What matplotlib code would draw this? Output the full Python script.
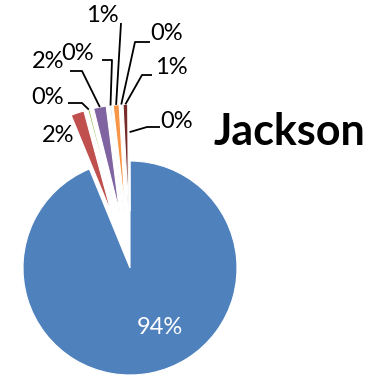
import matplotlib
matplotlib.use("Agg")
import matplotlib.pyplot as plt
import numpy as np

# ---- data ----
categories = ["A", "B", "C", "D", "E", "F", "G", "H", "I"]
values = [93.8, 2.0, 0.3, 1.9, 0.2, 0.9, 0.1, 0.7, 0.1]
colors = ["#4F81BD", "#C0504D", "#9BBB59", "#8064A2", "#4BACC6",
          "#F79646", "#2C4D75", "#772C2A", "#5F7530"]
title = "Jackson"

W, H = 376, 377
def P(x, y):
    return (x, H - y)

fig = plt.figure(figsize=(W / 100, H / 100), dpi=100)
ax = fig.add_axes([0, 0, 1, 1])

R = 107
explode = [0.0] + [0.53 * R] * (len(values) - 1)
wedges, _ = ax.pie(values, colors=colors, startangle=90, counterclock=False,
                   explode=explode, center=P(130, 268), radius=R,
                   wedgeprops=dict(edgecolor="white", linewidth=0.8))
ax.set_xlim(0, W)
ax.set_ylim(0, H)
ax.set_aspect("auto")
ax.axis("off")

total = sum(values)
labels = ["%.0f%%" % (v / total * 100) for v in values]

# layout: label centre, leader start (near label), elbow  (pixel coords)
label_pos = [(160, 328), (58, 135), (48, 97), (48, 62), (78, 53),
             (102, 15), (167, 34), (171, 67), (177, 122)]
leader = [None, None,
          ((68, 103), (82, 103)),
          ((70, 71), (82, 71)),
          ((102, 60), (112, 60)),
          ((121, 23), (121, 23)),
          ((150, 42), (135, 42)),
          ((152, 75), (142, 75)),
          ((160, 127), (147, 127))]
attach = [1, 1, 1, 1, 1, 1, 1, 1, 0.74]

fs = 17
for i, (w, lab) in enumerate(zip(wedges, labels)):
    col = "white" if i == 0 else "black"
    ax.text(*P(*label_pos[i]), lab, ha="center", va="center", fontsize=fs,
            color=col, family="Lato")
    if leader[i] is not None:
        mid = np.deg2rad((w.theta1 + w.theta2) / 2)
        cx, cy = w.center
        px = cx + attach[i] * w.r * np.cos(mid)
        py = cy + attach[i] * w.r * np.sin(mid)
        s = P(*leader[i][0])
        e = P(*leader[i][1])
        ax.plot([s[0], e[0], px], [s[1], e[1], py], color="black", lw=1.3,
                solid_capstyle="butt")

ax.text(*P(289, 145), title, ha="center", va="baseline", fontsize=31,
        fontweight="bold", family="Lato")

fig.savefig("out.png", dpi=100)
